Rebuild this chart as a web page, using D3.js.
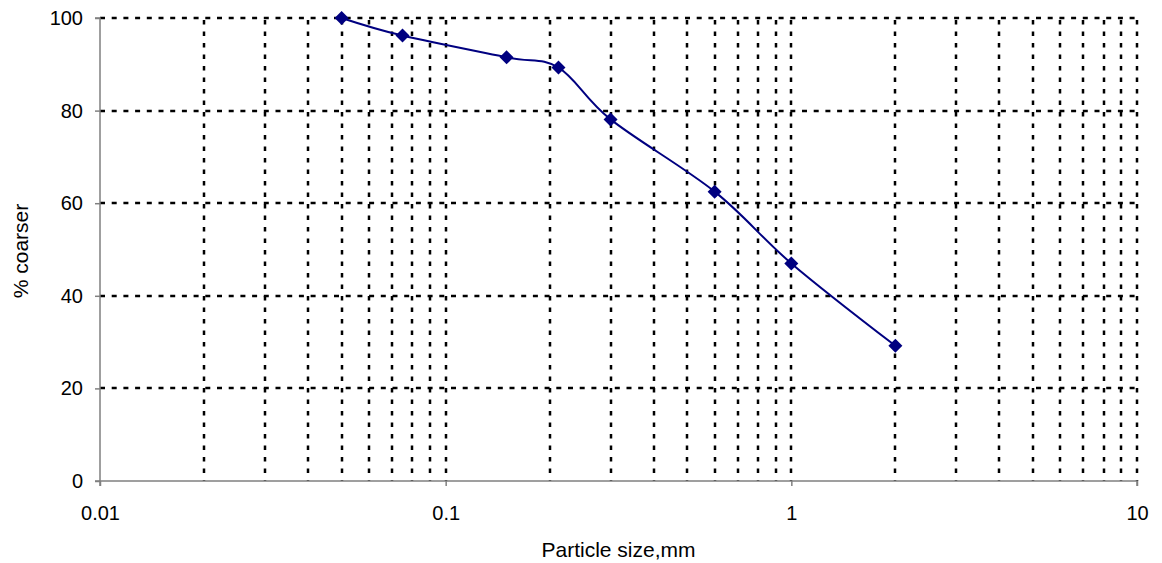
<!DOCTYPE html>
<html>
<head>
<meta charset="utf-8">
<script src="https://cdn.jsdelivr.net/npm/d3@7/dist/d3.min.js"></script>
<style>
  html, body { margin: 0; padding: 0; background: #fff; }
  text { font-family: "Liberation Sans", Arial, sans-serif; fill: #000; }
</style>
</head>
<body>
<svg id="chart" width="1162" height="563"></svg>
<script>
// ---- data ----
const particleSize = [0.05, 0.075, 0.15, 0.212, 0.3, 0.6, 1, 2];
const percentCoarser = [100, 96.2, 91.5, 89.3, 78.1, 62.5, 47, 29.2];
const xTickValues = [0.01, 0.1, 1, 10];
const xTickLabels = ["0.01", "0.1", "1", "10"];
const yTickValues = [0, 20, 40, 60, 80, 100];
const xTitle = "Particle size,mm";
const yTitle = "% coarser";

// ---- layout ----
const pLeft = 100, pRight = 1137, pTop = 18, pBottom = 481;
const svg = d3.select("#chart");
const x = d3.scaleLog().domain([0.01, 10]).range([pLeft, pRight]);
const y = d3.scaleLinear().domain([0, 100]).range([pBottom, pTop]);

// vertical grid at log minor values
const xGrid = [];
[0.01, 0.1, 1].forEach(d => { for (let k = 2; k <= 10; k++) xGrid.push(+(d * k).toPrecision(3)); });
const grid = svg.append("g");
grid.selectAll("line.v").data(xGrid).enter().append("line")
  .attr("class", "v")
  .attr("x1", d => Math.round(x(d))).attr("x2", d => Math.round(x(d)))
  .attr("y1", pTop + 2).attr("y2", pBottom)
  .attr("stroke", "#000").attr("stroke-width", 2.5)
  .attr("stroke-dasharray", "4.5,7");
grid.selectAll("line.h").data(yTickValues.filter(v => v > 0)).enter().append("line")
  .attr("class", "h")
  .attr("x1", pLeft).attr("x2", pRight)
  .attr("y1", d => Math.round(y(d))).attr("y2", d => Math.round(y(d)))
  .attr("stroke", "#000").attr("stroke-width", 2.5)
  .attr("stroke-dasharray", "5,6.7");

// axes
const axisColor = "#808080";
const yAxis = svg.append("g").attr("transform", `translate(${pLeft},0)`)
  .call(d3.axisLeft(y).tickValues(yTickValues).tickSize(5).tickPadding(12).tickFormat(d3.format("d")));
const xAxis = svg.append("g").attr("transform", `translate(0,${pBottom})`)
  .call(d3.axisBottom(x).tickValues(xTickValues).tickSize(5).tickPadding(20)
    .tickFormat((d, i) => xTickLabels[i]));
[xAxis, yAxis].forEach(a => {
  a.select(".domain").attr("stroke", axisColor).attr("stroke-width", 1.5);
  a.selectAll(".tick line").attr("stroke", axisColor).attr("stroke-width", 1.5);
  a.selectAll("text").style("font-size", "20px").attr("fill", "#000")
    .style("font-family", "'Liberation Sans', Arial, sans-serif");
});
xAxis.select(".domain").attr("d", `M${pLeft},5V0H${pRight}V5`);
yAxis.select(".domain").attr("d", `M-5,${pTop}H0V${pBottom}H-5`);

// series
const pts = particleSize.map((d, i) => [d, percentCoarser[i]]);
const line = d3.line().x(d => x(d[0])).y(d => y(d[1])).curve(d3.curveCardinal.tension(0));
svg.append("path").datum(pts).attr("d", line)
  .attr("fill", "none").attr("stroke", "#000080").attr("stroke-width", 2);
svg.append("g").selectAll("path").data(pts).enter().append("path")
  .attr("transform", d => `translate(${x(d[0])},${y(d[1])})`)
  .attr("d", "M0,-7L7,0L0,7L-7,0Z")
  .attr("fill", "#000080");

// titles
svg.append("text").attr("x", (pLeft + pRight) / 2).attr("y", 557)
  .attr("text-anchor", "middle").style("font-size", "21px").text(xTitle);
svg.append("text").attr("transform", "translate(28,251) rotate(-90)")
  .attr("text-anchor", "middle").style("font-size", "21px").text(yTitle);
</script>
</body>
</html>
